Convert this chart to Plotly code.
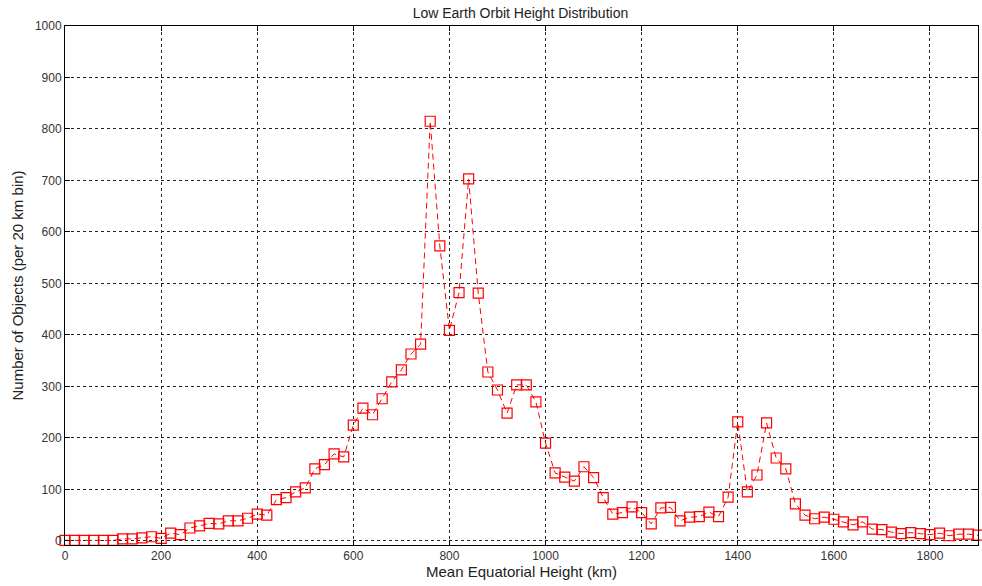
import plotly.graph_objects as go

# Bin positions (mean equatorial height, km) in 20 km steps
heights_km = list(range(0, 1920, 20))

# Object counts per 20 km bin
object_counts = [
    1, 1, 1, 1, 1, 1, 4, 4, 6, 8,
    5, 15, 12, 25, 29, 34, 33, 39, 39, 44,
    52, 50, 80, 84, 95, 103, 140, 148, 169, 163,
    225, 258, 245, 276, 309, 332, 363, 382, 815, 573,
    409, 482, 703, 481, 328, 293, 248, 303, 303, 270,
    190, 132, 124, 116, 144, 123, 84, 52, 55, 66,
    55, 33, 64, 65, 39, 46, 47, 56, 47, 85,
    231, 95, 128, 229, 161, 140, 72, 50, 43, 46,
    42, 37, 31, 37, 23, 22, 17, 14, 16, 14,
    12, 15, 10, 13, 13, 11,
]

x_ticks = list(range(0, 2000, 200))
y_ticks = list(range(0, 1100, 100))

FONT = "Liberation Sans, Arial, sans-serif"

fig = go.Figure()
fig.add_trace(go.Scatter(
    x=heights_km,
    y=object_counts,
    mode="lines+markers",
    line=dict(color="#ff0000", width=1, dash="6px,4px"),
    marker=dict(symbol="square-open", size=10, color="#ff0000",
                line=dict(width=1.2, color="#ff0000")),
    cliponaxis=False,
    showlegend=False,
))

axis_common = dict(
    showline=True,
    linecolor="black",
    linewidth=1,
    mirror="ticks",
    ticks="inside",
    ticklen=5,
    tickcolor="black",
    showgrid=True,
    gridcolor="#222222",
    gridwidth=1,
    griddash="3px,3px",
    zeroline=False,
    tickfont=dict(family=FONT, size=12, color="#333333"),
)

fig.update_xaxes(
    range=[0, 1900],
    tickvals=x_ticks,
    title=dict(text="Mean Equatorial Height (km)",
               font=dict(family=FONT, size=15, color="#222222"), standoff=3),
    **axis_common,
)
fig.update_yaxes(
    range=[-8, 1000],
    tickvals=y_ticks,
    title=dict(text="Number of Objects (per 20 km bin)",
               font=dict(family=FONT, size=15, color="#222222"), standoff=7),
    **axis_common,
)

fig.update_layout(
    width=982,
    height=586,
    margin=dict(l=65, r=4, t=26, b=41),
    paper_bgcolor="white",
    plot_bgcolor="white",
    title=dict(text="Low Earth Orbit Height Distribution",
               font=dict(family=FONT, size=14, color="#222222"),
               x=0.53, xanchor="center", y=0.978, yanchor="middle"),
)

fig.write_html("out.html")
